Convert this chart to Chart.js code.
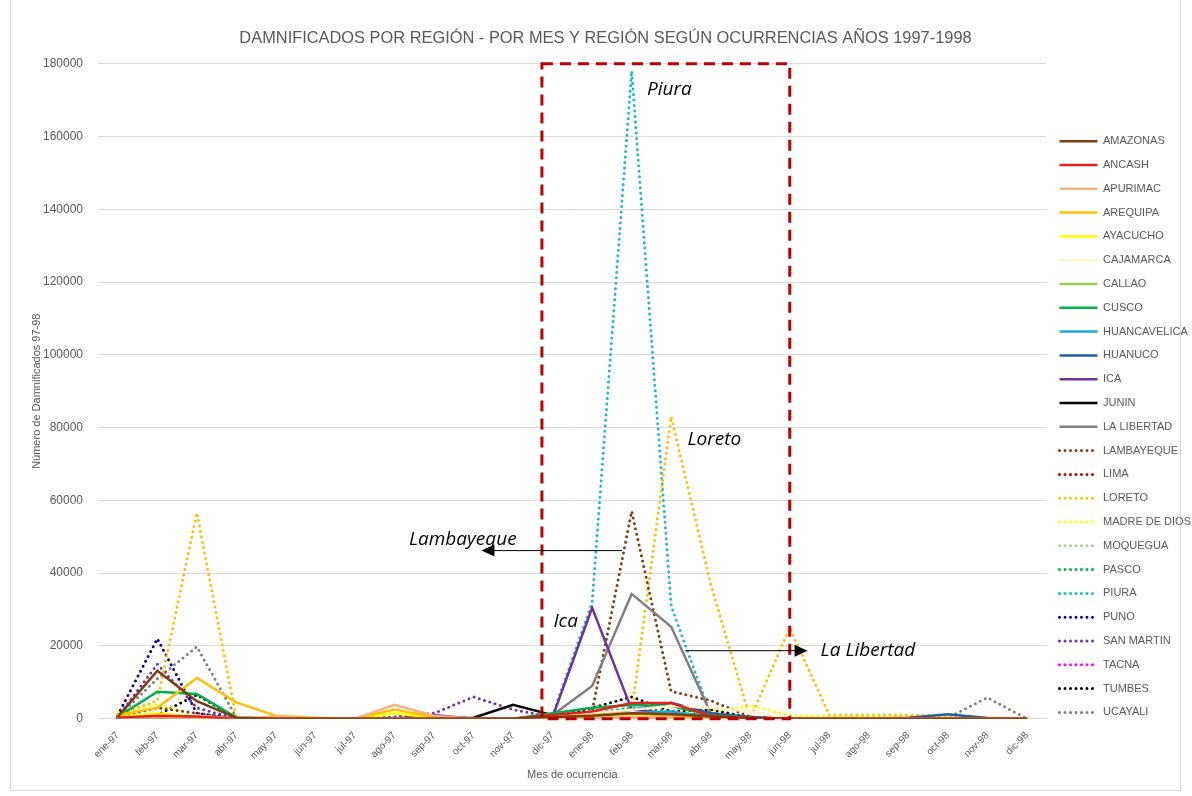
<!DOCTYPE html>
<html>
<head>
<meta charset="utf-8">
<script src="https://cdn.jsdelivr.net/npm/chart.js@4.4.0/dist/chart.umd.min.js"></script>
<style>
  html, body { margin: 0; padding: 0; background: #fff; overflow: hidden; }
  #frame { position: absolute; left: 10px; top: -1px; width: 1171px; height: 792px; border: 1px solid #d9d9d9; box-sizing: border-box; }
  #chart-box { position: absolute; left: 0; top: 0; width: 1192px; height: 796px; }
</style>
</head>
<body>
<div id="frame"></div>
<div id="chart-box"><canvas id="chart"></canvas></div>
<script>
// Months
const months = ['ene-97', 'feb-97', 'mar-97', 'abr-97', 'may-97', 'jun-97', 'jul-97', 'ago-97', 'sep-97', 'oct-97', 'nov-97', 'dic-97',
  'ene-98', 'feb-98', 'mar-98', 'abr-98', 'may-98', 'jun-98', 'jul-98', 'ago-98', 'sep-98', 'oct-98', 'nov-98', 'dic-98'];

// Damnificados per region
const amazonas     = [500, 13200, 4800, 300, 0, 0, 0, 0, 0, 0, 0, 500, 800, 1500, 1200, 600, 200, 0, 0, 0, 0, 0, 0, 0];
const ancash       = [300, 800, 600, 0, 0, 0, 0, 0, 0, 0, 0, 1000, 2000, 4300, 4300, 800, 200, 0, 0, 0, 0, 0, 0, 0];
const apurimac     = [200, 500, 300, 200, 600, 0, 0, 3800, 800, 0, 0, 0, 300, 500, 300, 0, 0, 0, 0, 0, 0, 0, 0, 0];
const arequipa     = [1000, 3000, 11200, 4500, 800, 300, 0, 2500, 500, 0, 0, 300, 1000, 1500, 800, 300, 0, 0, 0, 0, 0, 0, 0, 0];
const ayacucho     = [500, 1500, 500, 0, 0, 0, 0, 1500, 300, 0, 0, 0, 500, 800, 500, 0, 0, 0, 0, 0, 0, 0, 0, 0];
const cajamarca    = [300, 1000, 800, 0, 0, 0, 0, 0, 0, 0, 0, 500, 1500, 2500, 3500, 3000, 2000, 0, 0, 0, 0, 0, 0, 0];
const callao       = [0, 200, 100, 0, 0, 0, 0, 0, 0, 0, 0, 0, 200, 500, 300, 0, 0, 0, 0, 0, 0, 0, 0, 0];
const cusco        = [500, 7400, 6800, 300, 0, 0, 0, 0, 0, 0, 0, 1500, 3000, 3800, 3500, 1000, 200, 0, 0, 0, 0, 0, 0, 0];
const huancavelica = [200, 1000, 500, 0, 0, 0, 0, 0, 0, 0, 0, 300, 1000, 1500, 2000, 500, 0, 0, 0, 0, 0, 0, 0, 0];
const huanuco      = [200, 500, 300, 0, 0, 0, 0, 0, 0, 0, 0, 800, 1500, 2500, 4400, 1500, 500, 0, 0, 0, 300, 1200, 200, 0];
const ica          = [0, 800, 600, 0, 0, 0, 0, 0, 1000, 0, 0, 500, 30500, 2500, 1500, 500, 0, 0, 0, 0, 0, 0, 0, 0];
const junin        = [0, 500, 300, 0, 0, 0, 0, 0, 0, 300, 3800, 1000, 1200, 1000, 1500, 800, 0, 0, 0, 0, 0, 0, 0, 0];
const laLibertad   = [0, 300, 200, 0, 0, 0, 0, 0, 0, 0, 0, 1000, 9000, 34300, 25300, 1500, 300, 0, 0, 0, 0, 0, 0, 0];
const lambayeque   = [500, 3000, 1500, 0, 0, 0, 0, 0, 0, 0, 0, 500, 2000, 57000, 7500, 5000, 500, 0, 0, 0, 0, 0, 0, 0];
const lima         = [300, 1000, 500, 0, 0, 0, 0, 0, 0, 0, 0, 300, 800, 1500, 1000, 300, 0, 0, 0, 0, 0, 0, 0, 0];
const loreto       = [1000, 5000, 56600, 0, 0, 0, 0, 0, 0, 0, 0, 0, 500, 2000, 83000, 37000, 0, 25000, 1000, 1000, 1000, 800, 300, 0];
const madreDeDios  = [2000, 4000, 1000, 0, 0, 0, 0, 0, 0, 0, 0, 0, 500, 1000, 1500, 2000, 3500, 1000, 800, 800, 800, 500, 0, 0];
const moquegua     = [0, 300, 200, 0, 0, 0, 0, 0, 0, 0, 0, 0, 300, 500, 300, 0, 0, 0, 0, 0, 0, 0, 0, 0];
const pasco        = [300, 1000, 500, 0, 0, 0, 0, 0, 0, 0, 0, 300, 1500, 3000, 2000, 500, 0, 0, 0, 0, 0, 0, 0, 0];
const piura        = [0, 500, 300, 0, 0, 0, 0, 0, 0, 0, 0, 1000, 32000, 178000, 31000, 1000, 300, 0, 0, 0, 0, 0, 0, 0];
const puno         = [1000, 22000, 1500, 0, 0, 0, 0, 0, 0, 0, 0, 0, 500, 1500, 800, 300, 0, 0, 0, 0, 0, 0, 0, 0];
const sanMartin    = [500, 15000, 3000, 0, 0, 0, 0, 500, 1500, 6000, 2500, 500, 800, 1200, 800, 300, 0, 0, 0, 0, 0, 0, 0, 0];
const tacna        = [0, 300, 200, 0, 0, 0, 0, 0, 0, 0, 0, 0, 200, 300, 200, 0, 0, 0, 0, 0, 0, 0, 0, 0];
const tumbes       = [0, 1000, 6600, 200, 0, 0, 0, 0, 0, 0, 0, 500, 3000, 6000, 2000, 2500, 300, 0, 0, 0, 0, 0, 0, 0];
const ucayali      = [500, 11000, 19800, 300, 0, 0, 0, 0, 0, 0, 0, 0, 300, 800, 500, 300, 0, 0, 0, 0, 0, 300, 5800, 0];

const regionNames = ['AMAZONAS', 'ANCASH', 'APURIMAC', 'AREQUIPA', 'AYACUCHO', 'CAJAMARCA', 'CALLAO', 'CUSCO', 'HUANCAVELICA',
  'HUANUCO', 'ICA', 'JUNIN', 'LA LIBERTAD', 'LAMBAYEQUE', 'LIMA', 'LORETO', 'MADRE DE DIOS', 'MOQUEGUA', 'PASCO', 'PIURA',
  'PUNO', 'SAN MARTIN', 'TACNA', 'TUMBES', 'UCAYALI'];
const regionValues = [amazonas, ancash, apurimac, arequipa, ayacucho, cajamarca, callao, cusco, huancavelica,
  huanuco, ica, junin, laLibertad, lambayeque, lima, loreto, madreDeDios, moquegua, pasco, piura,
  puno, sanMartin, tacna, tumbes, ucayali];
const regionColors = ['#7b3f12', '#e3211c', '#f4b183', '#ffc000', '#ffff00', '#fff2cc', '#92d050', '#00b050', '#21a9dd',
  '#1f5f9f', '#7030a0', '#000000', '#808080', '#843c0c', '#c00000', '#ffc000', '#ffff00', '#a9d18e', '#00b050', '#17bccc',
  '#0000a0', '#7030a0', '#ff00ff', '#000000', '#7f7f7f'];
const firstDotted = 13; // from LAMBAYEQUE on the lines are dotted

// Build datasets
const datasets = regionNames.map((name, i) => {
  const dotted = i >= firstDotted;
  return {
    label: name,
    data: regionValues[i],
    borderColor: regionColors[i],
    backgroundColor: regionColors[i],
    borderWidth: dotted ? 3 : 2.5,
    borderDash: dotted ? [0, 5.5] : [],
    borderCapStyle: dotted ? 'round' : 'butt',
    pointRadius: 0,
    tension: 0,
    fill: false
  };
});

// Red box, arrows and region names drawn on top
const notesPlugin = {
  id: 'notes',
  afterDatasetsDraw(chart) {
    const ctx = chart.ctx;
    const x = chart.scales.x;
    const y = chart.scales.y;
    ctx.save();

    // dashed box
    ctx.strokeStyle = '#c00000';
    ctx.lineWidth = 3;
    ctx.setLineDash([11, 7]);
    const left = x.getPixelForValue(10.73);
    const right = x.getPixelForValue(17);
    const top = y.getPixelForValue(180000);
    const bottom = y.getPixelForValue(0);
    ctx.strokeRect(left, top, right - left, bottom - top);
    ctx.setLineDash([]);

    // arrows
    function arrow(x1, x2, yy) {
      const dir = x2 > x1 ? 1 : -1;
      ctx.strokeStyle = '#000';
      ctx.fillStyle = '#000';
      ctx.lineWidth = 1;
      ctx.beginPath();
      ctx.moveTo(x1, yy);
      ctx.lineTo(x2 - dir * 12, yy);
      ctx.stroke();
      ctx.beginPath();
      ctx.moveTo(x2, yy);
      ctx.lineTo(x2 - dir * 13, yy - 6);
      ctx.lineTo(x2 - dir * 13, yy + 6);
      ctx.closePath();
      ctx.fill();
    }
    arrow(x.getPixelForValue(12.76), x.getPixelForValue(9.2), y.getPixelForValue(46200));
    arrow(x.getPixelForValue(14.36), x.getPixelForValue(17.45), y.getPixelForValue(18700));

    // labels
    ctx.fillStyle = '#000';
    ctx.font = 'italic 19px "Open Sans"';
    ctx.textBaseline = 'middle';
    ctx.textAlign = 'left';
    ctx.fillText('Piura', x.getPixelForValue(13.39), y.getPixelForValue(172850));
    ctx.fillText('Loreto', x.getPixelForValue(14.41), y.getPixelForValue(76670));
    ctx.fillText('La Libertad', x.getPixelForValue(17.78), y.getPixelForValue(18700));
    ctx.textAlign = 'center';
    ctx.fillText('Ica', x.getPixelForValue(11.33), y.getPixelForValue(26660));
    ctx.textAlign = 'right';
    ctx.fillText('Lambayeque', x.getPixelForValue(10.09), y.getPixelForValue(49190));
    ctx.restore();
  }
};

const ctx = document.getElementById('chart').getContext('2d');
const chart = new Chart(ctx, {
  type: 'line',
  data: { labels: months, datasets: datasets },
  options: {
    responsive: true,
    maintainAspectRatio: false,
    animation: false,
    layout: { padding: { left: 10, right: -9, top: 0, bottom: 10 } },
    plugins: {
      title: {
        display: true,
        text: 'DAMNIFICADOS POR REGIÓN - POR MES Y REGIÓN SEGÚN OCURRENCIAS AÑOS 1997-1998',
        color: '#595959',
        font: { family: 'Liberation Sans', size: 16.4, weight: 'normal' },
        padding: { top: 29, bottom: 15 }
      },
      legend: {
        position: 'right',
        title: { display: true, text: '', font: { size: 8 }, padding: { top: 58, bottom: 0 } },
        labels: {
          usePointStyle: true,
          pointStyle: 'line',
          pointStyleWidth: 38,
          color: '#595959',
          font: { family: 'Liberation Sans', size: 11 },
          padding: 12.8,
          // keep the dotted look of each line in the legend
          generateLabels(chart) {
            const items = Chart.defaults.plugins.legend.labels.generateLabels(chart);
            items.forEach(item => {
              const ds = chart.data.datasets[item.datasetIndex];
              item.lineDash = ds.borderDash;
              item.lineCap = ds.borderCapStyle;
              item.lineWidth = ds.borderWidth;
              item.strokeStyle = ds.borderColor;
            });
            return items;
          }
        }
      },
      tooltip: { enabled: false }
    },
    scales: {
      x: {
        offset: true,
        grid: { display: false },
        border: { display: true, color: '#d9d9d9' },
        ticks: {
          color: '#595959',
          font: { family: 'Liberation Sans', size: 10 },
          maxRotation: 45,
          minRotation: 45,
          autoSkip: false
        },
        title: {
          display: true,
          text: 'Mes de ocurrencia',
          color: '#595959',
          font: { family: 'Liberation Sans', size: 11 },
          padding: { top: 4 }
        }
      },
      y: {
        min: 0,
        max: 180000,
        grid: { color: '#d9d9d9', drawTicks: true, tickLength: 14, tickColor: 'rgba(0,0,0,0)' },
        border: { display: false },
        ticks: {
          stepSize: 20000,
          padding: 1,
          color: '#595959',
          font: { family: 'Liberation Sans', size: 12 },
          callback: value => String(value)
        },
        title: {
          display: true,
          text: 'Número de Damnificados 97-98',
          color: '#595959',
          font: { family: 'Liberation Sans', size: 11, lineHeight: 1 },
          padding: { top: 21, bottom: 0 }
        }
      }
    }
  },
  plugins: [notesPlugin]
});
</script>
</body>
</html>
